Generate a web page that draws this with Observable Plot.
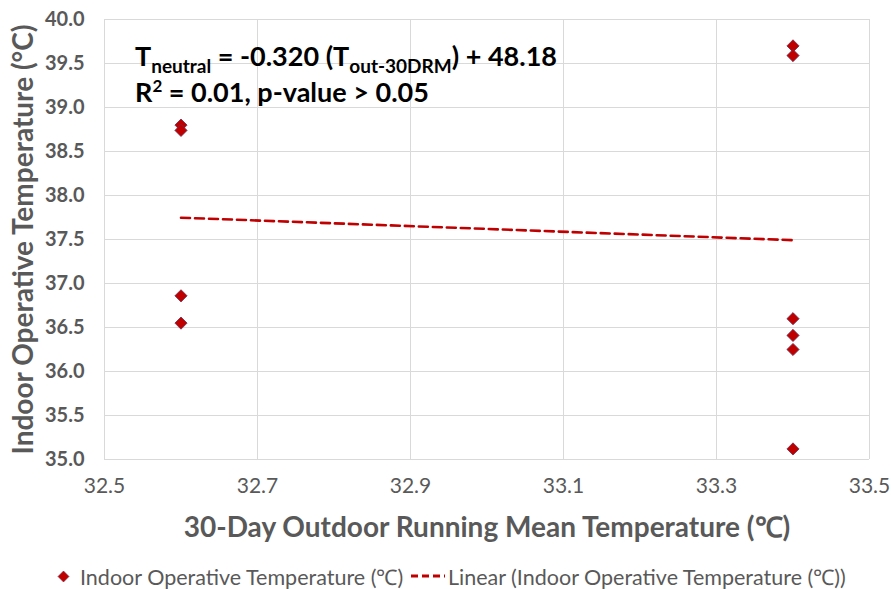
<!DOCTYPE html>
<html><head><meta charset="utf-8">
<script src="https://cdn.jsdelivr.net/npm/d3@7"></script>
<script src="https://cdn.jsdelivr.net/npm/@observablehq/plot@0.6"></script>
<style>
body{margin:0;background:#fff;font-family:Lato,sans-serif;}
#wrap{position:relative;width:891px;height:589px;overflow:hidden;}
#legend{position:absolute;top:563px;left:0;width:891px;height:26px;font-size:21.5px;color:#595959;white-space:nowrap;}
#legend .item{position:absolute;top:0;display:flex;align-items:center;height:26px;}
</style></head><body><div id="wrap"><div id="chart"></div><div id="legend"></div></div>
<script>
// Data
const outdoorTemp = [32.6, 32.6, 32.6, 32.6, 33.4, 33.4, 33.4, 33.4, 33.4, 33.4];
const indoorTemp  = [38.80, 38.74, 36.86, 36.55, 39.70, 39.59, 36.60, 36.41, 36.25, 35.12];
const xTicks = [32.5, 32.7, 32.9, 33.1, 33.3, 33.5];
const yTicks = [35.0, 35.5, 36.0, 36.5, 37.0, 37.5, 38.0, 38.5, 39.0, 39.5, 40.0];
const trendSlope = -0.320;
const trendIntercept = 48.18;
const trendX = [32.6, 33.4];
const xTitle = "30-Day Outdoor Running Mean Temperature (℃)";
const yTitle = "Indoor Operative Temperature (°C)";
const seriesName = "Indoor Operative Temperature (℃)";
const trendName = "Linear (Indoor Operative Temperature (℃))";
const eqLine1 = ["T", "neutral", " = -0.320 (T", "out-30DRM", ") + 48.18"];
const eqLine2 = ["R", "2", " = 0.01, p-value > 0.05"];

const points = outdoorTemp.map((x, i) => ({x, y: indoorTemp[i]}));
const trend = trendX.map(x => ({x, y: trendSlope * x + trendIntercept}));
const grey = "#595959";
const red = "#c00000";

const chart = Plot.plot({
  width: 891, height: 550,
  marginLeft: 104, marginRight: 22, marginTop: 19, marginBottom: 91,
  style: {fontFamily: "Lato, sans-serif", background: "#fff", overflow: "visible"},
  x: {domain: [32.5, 33.5]},
  y: {domain: [35, 40]},
  marks: [
    Plot.gridX(xTicks, {stroke: "#d9d9d9", strokeOpacity: 1}),
    Plot.gridY(yTicks, {stroke: "#d9d9d9", strokeOpacity: 1}),
    Plot.axisX(xTicks, {tickSize: 0, tickPadding: 19, tickFormat: d3.format(".1f"), fontSize: 21, fill: grey, label: null}),
    Plot.axisY(yTicks, {tickSize: 0, tickPadding: 20, tickFormat: d3.format(".1f"), fontSize: 20, fontWeight: "bold", fill: grey, label: null}),
    Plot.line(trend, {x: "x", y: "y", stroke: red, strokeWidth: 2.6, strokeDasharray: "9,5"}),
    Plot.dot(points, {x: "x", y: "y", symbol: "diamond2", r: 5.5, fill: red, stroke: "#6b2d4f", strokeWidth: 0.8}),
    Plot.text([xTitle], {frameAnchor: "bottom", textAnchor: "middle", lineAnchor: "middle", dy: 69, fontSize: 28, fontWeight: "bold", fill: grey}),
    Plot.text([yTitle], {frameAnchor: "left", textAnchor: "middle", lineAnchor: "middle", rotate: -90, dx: -80, fontSize: 28, fontWeight: "bold", fill: grey})
  ]
});
document.getElementById("chart").appendChild(chart);

// Regression equation annotation
const svg = d3.select(chart);
const t1 = svg.append("text").attr("x", 135).attr("y", 66).attr("font-size", 27).attr("font-weight", "bold").attr("fill", "#000").attr("text-anchor", "start").attr("font-family", "Lato, sans-serif");
t1.append("tspan").text(eqLine1[0]);
t1.append("tspan").attr("font-size", 19).attr("dy", 7).text(eqLine1[1]);
t1.append("tspan").attr("dy", -7).text(eqLine1[2]);
t1.append("tspan").attr("font-size", 19).attr("dy", 7).text(eqLine1[3]);
t1.append("tspan").attr("dy", -7).text(eqLine1[4]);
const t2 = svg.append("text").attr("x", 135).attr("y", 102).attr("font-size", 27).attr("font-weight", "bold").attr("fill", "#000").attr("text-anchor", "start").attr("font-family", "Lato, sans-serif");
t2.append("tspan").text(eqLine2[0]);
t2.append("tspan").attr("font-size", 17).attr("dy", -10).text(eqLine2[1]);
t2.append("tspan").attr("dy", 10).text(eqLine2[2]);

// Legend
const legend = document.getElementById("legend");
legend.innerHTML = `
<div class="item" style="left:57px"><svg width="13" height="13" style="margin-right:10px"><path d="M6.5 1 L12 6.5 L6.5 12 L1 6.5Z" fill="${red}" stroke="#6b2d4f" stroke-width="0.6"/></svg><span>${seriesName}</span></div>
<div class="item" style="left:410px"><svg width="36" height="10" style="margin-right:2px"><line x1="1" y1="5" x2="35" y2="5" stroke="${red}" stroke-width="3" stroke-dasharray="7,4"/></svg><span>${trendName}</span></div>`;
</script>
</body></html>
